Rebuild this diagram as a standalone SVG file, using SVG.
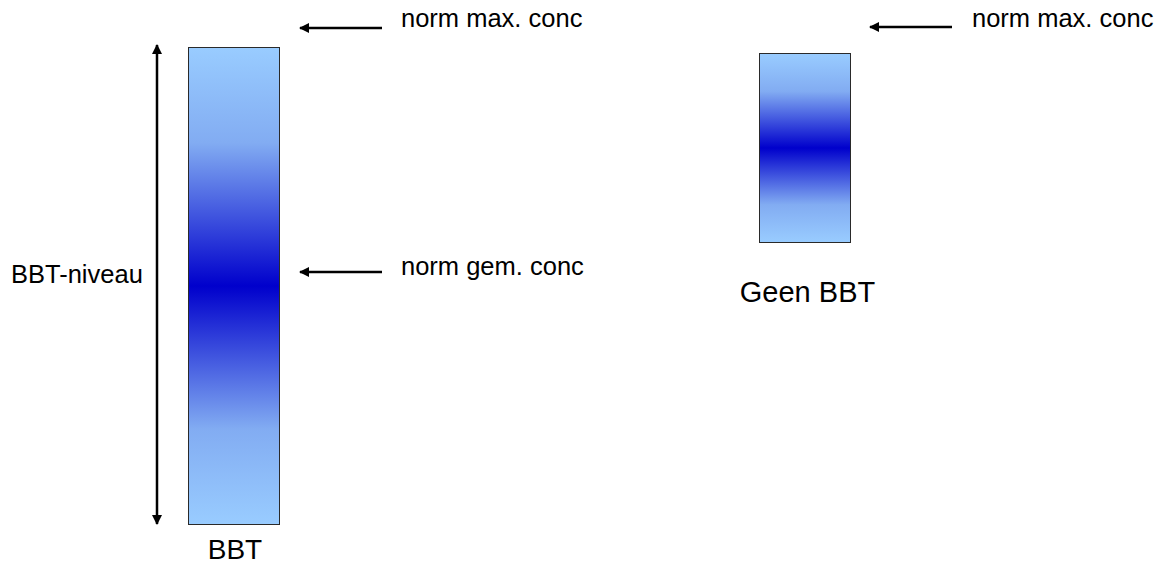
<svg xmlns="http://www.w3.org/2000/svg" width="1173" height="563" viewBox="0 0 1173 563">
  <defs>
    <linearGradient id="band" x1="0" y1="0" x2="0" y2="1">
      <stop offset="0" stop-color="#99ccff"/>
      <stop offset="0.2" stop-color="#82acf2"/>
      <stop offset="0.5" stop-color="#0000cc"/>
      <stop offset="0.8" stop-color="#82acf2"/>
      <stop offset="1" stop-color="#99ccff"/>
    </linearGradient>
    <marker id="head" viewBox="0 0 10 10" refX="9" refY="5" markerWidth="4" markerHeight="4" orient="auto-start-reverse">
      <path d="M0,0 L10,5 L0,10 Z" fill="#000"/>
    </marker>
  </defs>
  <style>
    .bar { fill: url(#band); stroke: #2a2a2a; stroke-width: 1; }
    .lbl { font-family: "Liberation Sans", Arial, sans-serif; fill: #000; }
    .arr { stroke: #000; stroke-width: 2.5; fill: none; marker-end: url(#head); }
  </style>

  <g id="bbt">
    <rect class="bar" x="188.5" y="47.5" width="91" height="477"/>
    <text class="lbl" x="235" y="559" font-size="28" text-anchor="middle">BBT</text>
  </g>

  <g id="geen-bbt">
    <rect class="bar" x="759.5" y="53.5" width="91" height="189"/>
    <text class="lbl" x="807.5" y="302" font-size="29" text-anchor="middle">Geen BBT</text>
  </g>

  <g id="labels">
    <text class="lbl" x="401" y="27" font-size="25.5">norm max. conc</text>
    <text class="lbl" x="401" y="275" font-size="25.5">norm gem. conc</text>
    <text class="lbl" x="972" y="27" font-size="25.5">norm max. conc</text>
    <text class="lbl" x="11" y="283" font-size="25.5">BBT-niveau</text>
  </g>

  <g id="connectors">
    <line class="arr" x1="382" y1="28" x2="300" y2="28"/>
    <line class="arr" x1="382" y1="272" x2="300" y2="272"/>
    <line class="arr" x1="952" y1="27" x2="870" y2="27"/>
    <!-- double-headed span of the BBT level -->
    <line class="arr" x1="157" y1="45" x2="157" y2="524" style="marker-start:url(#head)"/>
  </g>
</svg>
